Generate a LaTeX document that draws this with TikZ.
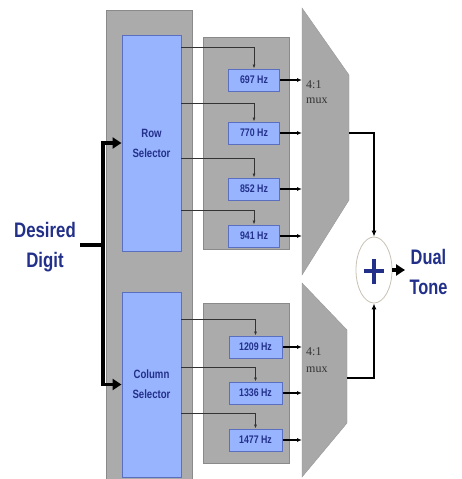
\documentclass[tikz,border=0pt]{standalone}
\usepackage{fontspec}
\setmainfont{Liberation Sans}
\newfontfamily\muxfont{Liberation Serif}
\usetikzlibrary{arrows.meta,shapes.geometric}
\definecolor{panel}{HTML}{ABABAB}
\definecolor{panelb}{HTML}{8A8A8A}
\definecolor{boxfill}{HTML}{99B4FF}
\definecolor{boxb}{HTML}{5A6FC0}
\definecolor{navy}{HTML}{22308A}
\definecolor{muxg}{HTML}{A8A8A8}
\definecolor{ringc}{HTML}{C9C2B4}
\tikzset{
  panelbox/.style={fill=panel,draw=panelb,line width=0.8pt},
  selbox/.style={draw=boxb,fill=boxfill,line width=1pt,minimum width=59pt,inner sep=0pt,
     font=\fontsize{12}{20}\selectfont\bfseries,text=navy,align=center},
  fbox/.style={draw=boxb,fill=boxfill,line width=1pt,minimum height=22pt,inner sep=0pt,
     font=\fontsize{11}{12}\selectfont\bfseries,text=navy},
  tap/.style={draw=black!80,line width=0.7pt,-{Latex[length=4pt,width=3pt]}},
  feed/.style={draw=black,line width=1.4pt,-{Latex[length=5pt,width=4pt]}},
  outl/.style={draw=black,line width=1.6pt,-{Latex[length=6pt,width=5pt]}},
  thickin/.style={draw=black,line width=3.5pt},
  bigarr/.style={draw=black,line width=3.5pt,-{Triangle[length=9pt,width=11pt]}},
  bigtxt/.style={font=\fontsize{21}{30}\selectfont\bfseries,text=navy,align=center},
  muxtxt/.style={font=\fontsize{12}{13}\muxfont,text=black!80,anchor=west,inner sep=0pt},
  muxshape/.style={fill=muxg,draw=muxg!90!black,line width=0.4pt}
}
\begin{document}
\begin{tikzpicture}[x=1pt,y=-1pt]
\useasboundingbox (0,0) rectangle (462,479);
\fill[white] (0,0) rectangle (462,479);

% grey panels
\fill[panelbox] (106,10) rectangle (192,482);
\fill[panelbox] (203,37) rectangle (289,249);
\fill[panelbox] (203,303) rectangle (289,463);

% selectors
\node[selbox,minimum height=216pt] (row) at (151.5,143) {\scalebox{0.8}[1]{Row}\\\scalebox{0.8}[1]{Selector}};
\node[selbox,minimum height=185pt] (col) at (151.5,384.5) {\scalebox{0.8}[1]{Column}\\\scalebox{0.8}[1]{Selector}};

% frequency boxes
\node[fbox,minimum width=51pt] (f697) at (254,80) {\scalebox{0.8}[1]{697 Hz}};
\node[fbox,minimum width=51pt] (f770) at (254,133) {\scalebox{0.8}[1]{770 Hz}};
\node[fbox,minimum width=51pt] (f852) at (254,189) {\scalebox{0.8}[1]{852 Hz}};
\node[fbox,minimum width=51pt] (f941) at (254,236) {\scalebox{0.8}[1]{941 Hz}};
\node[fbox,minimum width=53pt] (f1209) at (255.5,347) {\scalebox{0.8}[1]{1209 Hz}};
\node[fbox,minimum width=53pt] (f1336) at (255.5,393) {\scalebox{0.8}[1]{1336 Hz}};
\node[fbox,minimum width=53pt] (f1477) at (255.5,440) {\scalebox{0.8}[1]{1477 Hz}};

% tap lines from selectors
\coordinate (r1) at (181,47);
\coordinate (r2) at (181,103);
\coordinate (r3) at (181,158);
\coordinate (r4) at (181,210);
\coordinate (c1) at (181,319);
\coordinate (c2) at (181,367);
\coordinate (c3) at (181,413);
\draw[tap] (r1) -| (f697.north);
\draw[tap] (r2) -| (f770.north);
\draw[tap] (r3) -| (f852.north);
\draw[tap] (r4) -| (f941.north);
\draw[tap] (c1) -| (f1209.north);
\draw[tap] (c2) -| (f1336.north);
\draw[tap] (c3) -| (f1477.north);

% muxes
\fill[muxshape] (302,8) -- (349,75) -- (349,200) -- (302,275) -- cycle;
\fill[muxshape] (302,283) -- (347,330) -- (347,423) -- (302,477) -- cycle;
\coordinate (mA) at (302,0);
\node[muxtxt] (m1a) at (306,85) {4:1};
\node[muxtxt] (m1b) at (306,101) {mux};
\node[muxtxt] (m2a) at (306,352) {4:1};
\node[muxtxt] (m2b) at (306,370) {mux};

% feeds to mux
\foreach \n in {f697,f770,f852,f941,f1209,f1336,f1477}
  \draw[feed] (\n.east) -- (\n.east -| mA);

% summer
\node[ellipse,draw=ringc,fill=white,line width=0.8pt,minimum width=36pt,minimum height=66pt,inner sep=0pt] (sum) at (374,270) {};
\draw[navy,line width=4pt] (364,271) -- (384,271);
\draw[navy,line width=4pt] (374,259) -- (374,284);

\coordinate (mo1) at (349,133);
\coordinate (mo2) at (347,378);
\draw[outl] (mo1) -| (sum.north);
\draw[outl] (mo2) -| (sum.south);

% output
\coordinate (outc) at (405,270);
\draw[bigarr] (sum.east) -- (outc);
\node[bigtxt,anchor=west] (dt) at (406,272) {\scalebox{0.78}[1]{Dual}\\\scalebox{0.78}[1]{Tone}};

% input
\node[bigtxt,inner sep=0pt] (dd) at (45,247) {\scalebox{0.8}[1]{Desired}\\\scalebox{0.8}[1]{Digit}};
\coordinate (jn) at (103,245);
\draw[thickin] (80,245) -- (jn);
\draw[bigarr] (jn) |- (row.west);
\draw[bigarr] (jn) |- (col.west);
\end{tikzpicture}
\end{document}
